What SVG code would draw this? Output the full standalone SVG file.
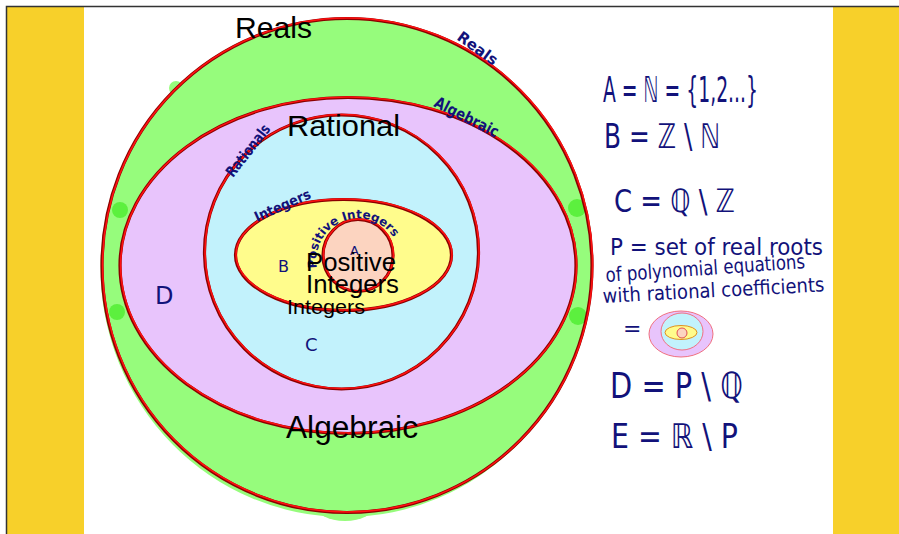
<svg xmlns="http://www.w3.org/2000/svg" width="899" height="534" viewBox="0 0 899 534">
<defs>
<style>
.rim{fill:none;stroke:#8a0000;stroke-width:3.2}
.rim2{fill:none;stroke:#ff1010;stroke-width:1.6}
.typed{font-family:"Liberation Sans",Arial,sans-serif;fill:#000}
.hand{font-family:"DejaVu Sans","Liberation Sans",sans-serif;fill:#12127a;font-weight:bold}
.form{font-family:"DejaVu Sans","Liberation Sans",sans-serif;fill:#12127a}
.blob{fill:#5cf03e}
</style>
<path id="arcA" d="M 317,268 A 42 42 0 0 1 399,250"/>
</defs>
<rect x="0" y="0" width="899" height="534" fill="#fff"/>
<rect x="7" y="7" width="77" height="527" fill="#f7d02a"/>
<rect x="833" y="7" width="66" height="527" fill="#f7d02a"/>
<path d="M6.5,534 V6.5 H899" fill="none" stroke="#333" stroke-width="1.5"/>

<g id="reals">
<ellipse cx="345" cy="268" rx="244.5" ry="249" fill="#96fc7c"/>
<ellipse cx="345" cy="505" rx="30" ry="16" fill="#96fc7c"/>
<circle cx="176" cy="88" r="7" fill="#96fc7c"/>
<ellipse cx="347" cy="265" rx="245" ry="247" fill="#96fc7c"/>
<circle class="blob" cx="120" cy="210" r="8"/>
<circle class="blob" cx="117" cy="312" r="8"/>
<circle class="blob" cx="577" cy="208" r="9"/>
<circle class="blob" cx="578" cy="316" r="9"/>
<ellipse class="rim" cx="347" cy="265.5" rx="245" ry="247"/>
<ellipse class="rim2" cx="347.6" cy="265" rx="245" ry="247"/>
<text class="typed" x="235" y="38" font-size="30" textLength="77" lengthAdjust="spacingAndGlyphs">Reals</text>
<text class="hand" font-size="15" transform="translate(456,39) rotate(36)" textLength="46" lengthAdjust="spacingAndGlyphs">Reals</text>
</g>

<g id="algebraic">
<ellipse cx="348" cy="265" rx="228" ry="168" fill="#e8c4fc"/>
<ellipse class="rim" cx="348" cy="265.5" rx="228" ry="168"/>
<ellipse class="rim2" cx="348.6" cy="265" rx="228" ry="168"/>
<text class="typed" x="286" y="438" font-size="31" textLength="132" lengthAdjust="spacingAndGlyphs">Algebraic</text>
<text class="hand" font-size="16" transform="translate(433,106) rotate(27)" textLength="70" lengthAdjust="spacingAndGlyphs">Algebraic</text>
<text class="form" x="155" y="304" font-size="24">D</text>
</g>

<g id="rational">
<ellipse cx="341.5" cy="251.5" rx="137" ry="137" fill="#c2f2fc"/>
<ellipse class="rim" cx="341.5" cy="252" rx="137" ry="137"/>
<ellipse class="rim2" cx="342" cy="251.5" rx="137" ry="137"/>
<text class="typed" x="287" y="136" font-size="30" textLength="113" lengthAdjust="spacingAndGlyphs">Rational</text>
<text class="hand" font-size="15" transform="translate(233,178) rotate(-52)" textLength="62" lengthAdjust="spacingAndGlyphs">Rationals</text>
<text class="form" x="305" y="351" font-size="18">C</text>
</g>

<g id="integers">
<ellipse cx="343.5" cy="254.5" rx="108" ry="55.5" fill="#fffc8c"/>
<ellipse class="rim" cx="343.5" cy="255" rx="108" ry="55.5"/>
<ellipse class="rim2" cx="344" cy="254.5" rx="108" ry="55.5"/>
<text class="hand" font-size="14" transform="translate(257,222) rotate(-24)" textLength="60" lengthAdjust="spacingAndGlyphs">Integers</text>
<text class="form" x="278" y="272" font-size="16">B</text>
<text class="typed" x="287" y="314" font-size="21" textLength="78" lengthAdjust="spacingAndGlyphs">Integers</text>
</g>

<g id="positive">
<ellipse cx="358" cy="255" rx="35" ry="36" fill="#fcd4c0"/>
<ellipse class="rim" cx="358" cy="255.5" rx="35" ry="36"/>
<ellipse class="rim2" cx="358.5" cy="255" rx="35" ry="36"/>
<text class="hand" font-size="12"><textPath href="#arcA">Positive Integers</textPath></text>
<text class="form" x="350" y="255" font-size="13">A</text>
<text class="typed" x="306" y="271" font-size="25" textLength="90" lengthAdjust="spacingAndGlyphs">Positive</text>
<text class="typed" x="306" y="293" font-size="25" textLength="93" lengthAdjust="spacingAndGlyphs">Integers</text>
</g>

<g id="definitions">
<text class="form" x="603" y="102" font-size="36" textLength="155" lengthAdjust="spacingAndGlyphs">A = ℕ = {1,2...}</text>
<text class="form" x="604" y="148" font-size="34" textLength="116" lengthAdjust="spacingAndGlyphs">B = ℤ \ ℕ</text>
<text class="form" x="614" y="212" font-size="32" textLength="121" lengthAdjust="spacingAndGlyphs">C = ℚ \ ℤ</text>
<text class="form" x="610" y="255" font-size="23" textLength="213" lengthAdjust="spacingAndGlyphs">P = set of real roots</text>
<text class="form" font-size="20" transform="translate(606,282) rotate(-4)" textLength="200" lengthAdjust="spacingAndGlyphs">of polynomial equations</text>
<text class="form" font-size="20" transform="translate(603,303) rotate(-3)" textLength="222" lengthAdjust="spacingAndGlyphs">with rational coefficients</text>
<text class="form" x="623" y="336" font-size="22">=</text>
<text class="form" x="610" y="398" font-size="36" textLength="133" lengthAdjust="spacingAndGlyphs">D = P \ ℚ</text>
<text class="form" x="611" y="448" font-size="34" textLength="127" lengthAdjust="spacingAndGlyphs">E = ℝ \ P</text>
</g>

<g id="mini">
<ellipse cx="681" cy="334" rx="32" ry="23" fill="#e8c4fc" stroke="#f07080" stroke-width="1"/>
<ellipse cx="682" cy="331.5" rx="21" ry="18.5" fill="#c2f2fc" stroke="#f07080" stroke-width="1"/>
<ellipse cx="681" cy="332.5" rx="16" ry="7" fill="#fffc8c" stroke="#e09020" stroke-width="1"/>
<circle cx="682" cy="333" r="5" fill="#fcd4c0" stroke="#e05050" stroke-width="1"/>
</g>
</svg>
